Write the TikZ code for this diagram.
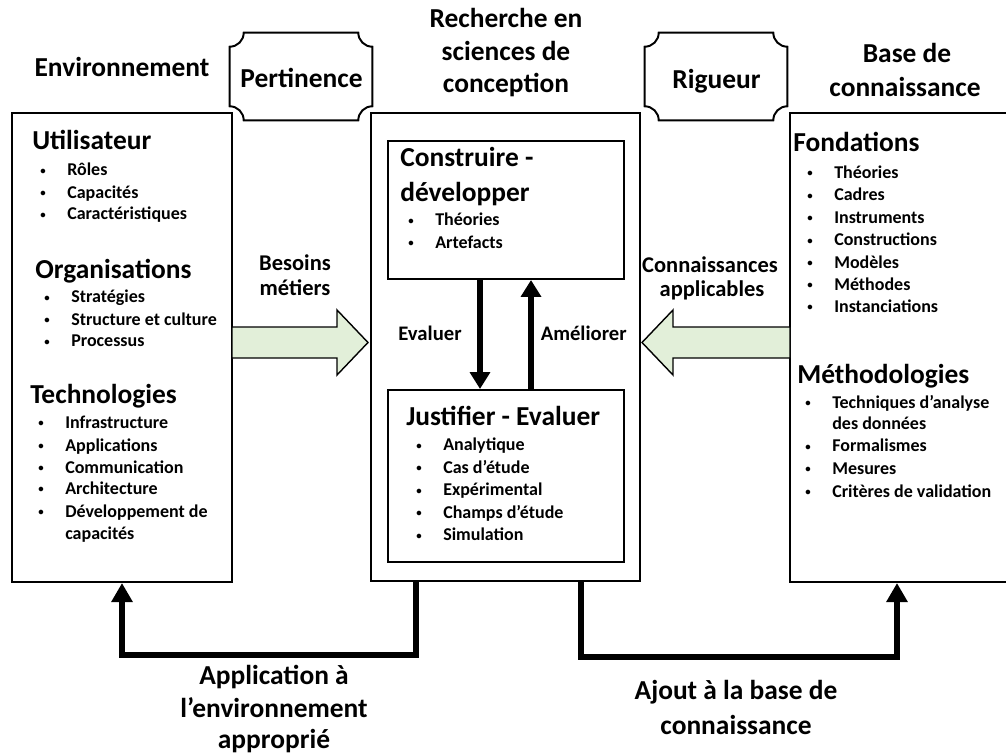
\documentclass[tikz,border=0pt]{standalone}
\usepackage{fontspec}
\usepackage{graphicx}
\setmainfont{Carlito}
\usetikzlibrary{arrows.meta}
\definecolor{vertclair}{RGB}{226,239,217}
\newcommand{\puce}{\makebox[19.2pt][l]{\raisebox{1pt}{\scalebox{0.6}{\textbullet}}}}

\begin{document}
\begin{tikzpicture}[x=0.025cm, y=-0.025cm,
  boite/.style={draw, line width=1.4pt, rectangle},
  plaq/.style={minimum width=3.55cm, minimum height=2.175cm},
  titre/.style={anchor=base, font=\bfseries\fontsize{19.5}{23}\selectfont},
  head/.style={anchor=base west, inner sep=0pt, font=\bfseries\fontsize{19.5}{23}\selectfont},
  item/.style={anchor=base west, inner sep=0pt, font=\bfseries\fontsize{12.8}{15}\selectfont},
  lab/.style={anchor=base, inner sep=0pt, font=\bfseries\fontsize{16}{19}\selectfont},
  fleche/.style={line width=4.2pt, -{Triangle[length=12pt, width=14pt]}},
  retour/.style={line width=4.6pt, -{Triangle[length=13.5pt, width=14.5pt]}},
  vert/.style={draw, line width=1pt, fill=vertclair}]

\useasboundingbox (0,0) rectangle (1006,755);

% grandes boites
\node[boite, minimum width=5.5cm, minimum height=11.725cm] at (122,347.5) (env) {};
\node[boite, minimum width=6.725cm, minimum height=11.7cm] at (505.5,347) (rech) {};
\node[boite, minimum width=5.55cm, minimum height=11.725cm] at (901,347.5) (base) {};
\node[boite, minimum width=5.9cm, minimum height=3.45cm] at (506,210) (cons) {};
\node[boite, minimum width=5.9cm, minimum height=4.3cm] at (506,476) (just) {};

% plaques
\node[plaq] at (301,76.5) (pert) {};
\node[plaq] at (716,76.5) (rig) {};
\draw[line width=1.4pt] ([xshift=0.35cm]pert.north west) -- ([xshift=-0.35cm]pert.north east)
  arc[start angle=180, end angle=270, radius=0.35cm] -- ([yshift=0.35cm]pert.south east)
  arc[start angle=90, end angle=180, radius=0.35cm] -- ([xshift=0.35cm]pert.south west)
  arc[start angle=0, end angle=90, radius=0.35cm] -- ([yshift=-0.35cm]pert.north west)
  arc[start angle=270, end angle=360, radius=0.35cm] -- cycle;
\draw[line width=1.4pt] ([xshift=0.35cm]rig.north west) -- ([xshift=-0.35cm]rig.north east)
  arc[start angle=180, end angle=270, radius=0.35cm] -- ([yshift=0.35cm]rig.south east)
  arc[start angle=90, end angle=180, radius=0.35cm] -- ([xshift=0.35cm]rig.south west)
  arc[start angle=0, end angle=90, radius=0.35cm] -- ([yshift=-0.35cm]rig.north west)
  arc[start angle=270, end angle=360, radius=0.35cm] -- cycle;

% titres
\node[titre] at (122,77) (t0) {Environnement};
\node[titre] at (301.5,87.3) (t1) {Pertinence};
\node[titre] at (506,28) (t2) {Recherche en};
\node[titre] at (506,60.5) (t3) {sciences de};
\node[titre] at (506,93) (t4) {conception};
\node[titre] at (716.5,88.3) (t5) {Rigueur};
\node[titre] at (907,63) (t6) {Base de};
\node[titre] at (905,97) (t7) {connaissance};

% environnement
\node[head] at (32,150) (u0) {Utilisateur};
\node[item] at (40,176) (u1) {\puce Rôles};
\node[item] at (40,198) (u2) {\puce Capacités};
\node[item] at (40,220) (u3) {\puce Caractéristiques};

\node[head] at (35,278) (o0) {Organisations};
\node[item] at (44,302.7) (o1) {\puce Stratégies};
\node[item] at (44,325) (o2) {\puce Structure et culture};
\node[item] at (44,346.7) (o3) {\puce Processus};

\node[head] at (30,403) (e0) {Technologies};
\node[item] at (38,428) (e1) {\puce Infrastructure};
\node[item] at (38,451) (e2) {\puce Applications};
\node[item] at (38,473) (e3) {\puce Communication};
\node[item] at (38,494) (e4) {\puce Architecture};
\node[item] at (38,517) (e5) {\puce Développement de};
\node[item] at (65,539) (e6) {capacités};

% recherche
\node[head] at (400,166.7) (c0) {Construire -};
\node[head] at (400,201.7) (c1) {développer};
\node[item] at (408,226) (c2) {\puce Théories};
\node[item] at (408,248) (c3) {\puce Artefacts};

\node[head] at (406,425) (j0) {Justifier - Evaluer};
\node[item] at (416,450.7) (j1) {\puce Analytique};
\node[item] at (416,473.3) (j2) {\puce Cas d’étude};
\node[item] at (416,495.7) (j3) {\puce Expérimental};
\node[item] at (416,518.3) (j4) {\puce Champs d’étude};
\node[item] at (416,540.7) (j5) {\puce Simulation};

% base de connaissance
\node[head] at (793,151.7) (f0) {Fondations};
\node[item] at (807,178.3) (f1) {\puce Théories};
\node[item] at (807,200.7) (f2) {\puce Cadres};
\node[item] at (807,223.3) (f3) {\puce Instruments};
\node[item] at (807,245.7) (f4) {\puce Constructions};
\node[item] at (807,268) (f5) {\puce Modèles};
\node[item] at (807,290) (f6) {\puce Méthodes};
\node[item] at (807,312.3) (f7) {\puce Instanciations};

\node[head] at (797,383.3) (m0) {Méthodologies};
\node[item] at (805,408.3) (m1) {\puce Techniques d’analyse};
\node[item] at (832,429.3) (m2) {des données};
\node[item] at (805,451.7) (m3) {\puce Formalismes};
\node[item] at (805,474.3) (m4) {\puce Mesures};
\node[item] at (805,497.3) (m5) {\puce Critères de validation};

% fleches vertes
\draw[vert] (232,327) -- (337,327) -- (337,310) -- (368,342.5) -- (337,375) -- (337,358) -- (232,358) -- cycle;
\draw[vert] (790,327) -- (673,327) -- (673,310) -- (642,342.5) -- (673,375) -- (673,358) -- (790,358) -- cycle;
\node[lab] at (295,270) (b0) {Besoins};
\node[lab] at (295,295) (b1) {métiers};
\node[lab] at (710,272) (k0) {Connaissances};
\node[lab] at (712,296) (k1) {applicables};

% boucle construire / evaluer
\draw[fleche] ([xshift=-0.65cm]cons.south) -- ([xshift=-0.65cm]just.north);
\draw[fleche] ([xshift=0.625cm]just.north) -- ([xshift=0.625cm]cons.south);
\node[lab, font=\bfseries\fontsize{14.7}{17}\selectfont] at (430,340.7) (v0) {Evaluer};
\node[lab, font=\bfseries\fontsize{14.7}{17}\selectfont] at (583.7,340.7) (v1) {Améliorer};

% retours
\draw[retour] ([xshift=-2.24cm]rech.south) -- ++(0,73) -| (env.south);
\draw[retour] ([xshift=1.89cm]rech.south) -- ++(0,75) -| ([xshift=-0.1cm]base.south);
\node[titre] at (274,684.5) (a0) {Application à};
\node[titre] at (274,717.5) (a1) {l’environnement};
\node[titre] at (274,748) (a2) {approprié};
\node[titre] at (736,699) (a3) {Ajout à la base de};
\node[titre] at (736,734) (a4) {connaissance};

\end{tikzpicture}
\end{document}
